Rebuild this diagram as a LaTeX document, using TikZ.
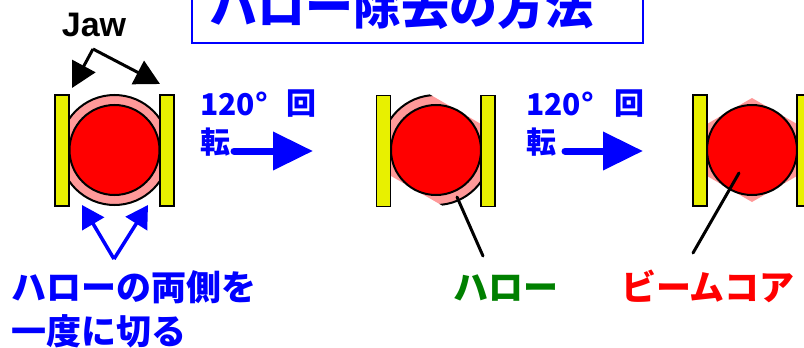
\documentclass[tikz,border=0pt]{standalone}
\usepackage{fontspec}
\setmainfont{Liberation Sans}
\newfontfamily\jp{Noto Sans CJK JP}
\usetikzlibrary{arrows.meta,calc}
\definecolor{jawy}{RGB}{232,240,0}
\definecolor{halopink}{RGB}{255,153,153}
\definecolor{hgreen}{RGB}{0,128,0}
\begin{document}
\begin{tikzpicture}[x=1pt,y=-1pt,
  jawbox/.style={rectangle,draw=black,line width=1.5pt,fill=jawy,minimum width=14pt,minimum height=111pt,inner sep=0},
  core/.style={circle,draw=black,line width=2pt,fill=red,minimum size=90pt,inner sep=0},
  halofill/.style={fill=halopink,draw=black,line width=2pt},
  jtxt/.style={inner sep=0,font=\jp\bfseries\fontsize{35}{40}\selectfont},
  rottxt/.style={inner sep=0,text=blue,font=\jp\bfseries\fontsize{30}{30}\selectfont},
  bigarrow/.style={draw=blue,line width=7pt,line cap=round,-{Triangle[length=40pt,width=37pt]}},
  jawarrow/.style={draw=black,line width=3pt,-{Triangle[length=25pt,width=26pt]}},
  cutarrow/.style={draw=blue,line width=3.5pt,-{Triangle[length=22pt,width=25pt]}},
  labline/.style={draw=black,line width=3pt,line cap=round}
]
\clip (0,0) rectangle (804,348);
\useasboundingbox (0,0) rectangle (804,348);

% title (cut off at the top edge, as in the reference)
\draw[blue,line width=2pt] (192,-60) rectangle (643,43);
\node[anchor=base west,inner sep=0,text=blue,font=\jp\bfseries\fontsize{48}{48}\selectfont] (title) at (209,24) {ハロー除去の方法};

% panel 1
\fill[halofill] (114.5,150) circle (55);
\node[core] (core1) at (114.5,150) {};
\node[jawbox] (j1l) at (62,150.5) {};
\node[jawbox] (j1r) at (167,150.5) {};

% panel 2
\begin{scope}
\clip[rotate around={60:(436,150)}] (391,40) rectangle (481,260);
\fill[halofill] (436,150) circle (55);
\end{scope}
\node[core] (core2) at (436,150) {};
\node[jawbox] (j2l) at (383.5,151) {};
\node[jawbox] (j2r) at (488,151) {};

% panel 3
\fill[halopink] (752,98) -- (797,124) -- (797,176) -- (752,202) -- (707,176) -- (707,124) -- cycle;
\node[core] (core3) at (752,150) {};
\node[jawbox] (j3l) at (700,150.5) {};
\node[jawbox] (j3r) at (804,150.5) {};

% Jaw label and arrows
\node[anchor=base,inner sep=0,font=\bfseries\fontsize{34}{34}\selectfont] (jaw) at (94,36) {Jaw};
\coordinate (jv) at (93,49);
\coordinate (jtl) at (72,88);
\coordinate (jtr) at (160,84);
\draw[jawarrow] (jv) -- (jtl);
\draw[jawarrow] (jv) -- (jtr);

% cut arrows
\coordinate (cv) at (114,259);
\coordinate (ctl) at (82,205);
\coordinate (ctr) at (148,205);
\draw[cutarrow] (cv) -- (ctl);
\draw[cutarrow] (cv) -- (ctr);
\node[jtxt,anchor=base west,text=blue] (cut1) at (11,300) {ハローの両側を};
\node[jtxt,anchor=base west,text=blue] (cut2) at (11,344) {一度に切る};

% rotation 1
\node[rottxt,anchor=base west] (r1a) at (200,115) {120°};
\node[rottxt,anchor=base west] (r1b) at (286,114) {回};
\node[rottxt,anchor=base west] (r1c) at (200,153) {転};
\coordinate (a1s) at (234,151);
\coordinate (a1e) at (313,151);
\draw[bigarrow] (a1s) -- (a1e);

% rotation 2
\node[rottxt,anchor=base west] (r2a) at (526,115) {120°};
\node[rottxt,anchor=base west] (r2b) at (614,114) {回};
\node[rottxt,anchor=base west] (r2c) at (526,153) {転};
\coordinate (a2s) at (565,151);
\coordinate (a2e) at (643,151);
\draw[bigarrow] (a2s) -- (a2e);

% labels
\coordinate (h2) at (457,197);
\coordinate (l2) at (483,256);
\draw[labline] (h2) -- (l2);
\node[jtxt,anchor=base,text=hgreen] (halolab) at (506,300) {ハロー};

\coordinate (h3) at (739,173);
\coordinate (l3) at (693,253);
\draw[labline] (h3) -- (l3);
\node[jtxt,anchor=base,text=red] (corelab) at (708,300) {ビームコア};
\end{tikzpicture}
\end{document}
